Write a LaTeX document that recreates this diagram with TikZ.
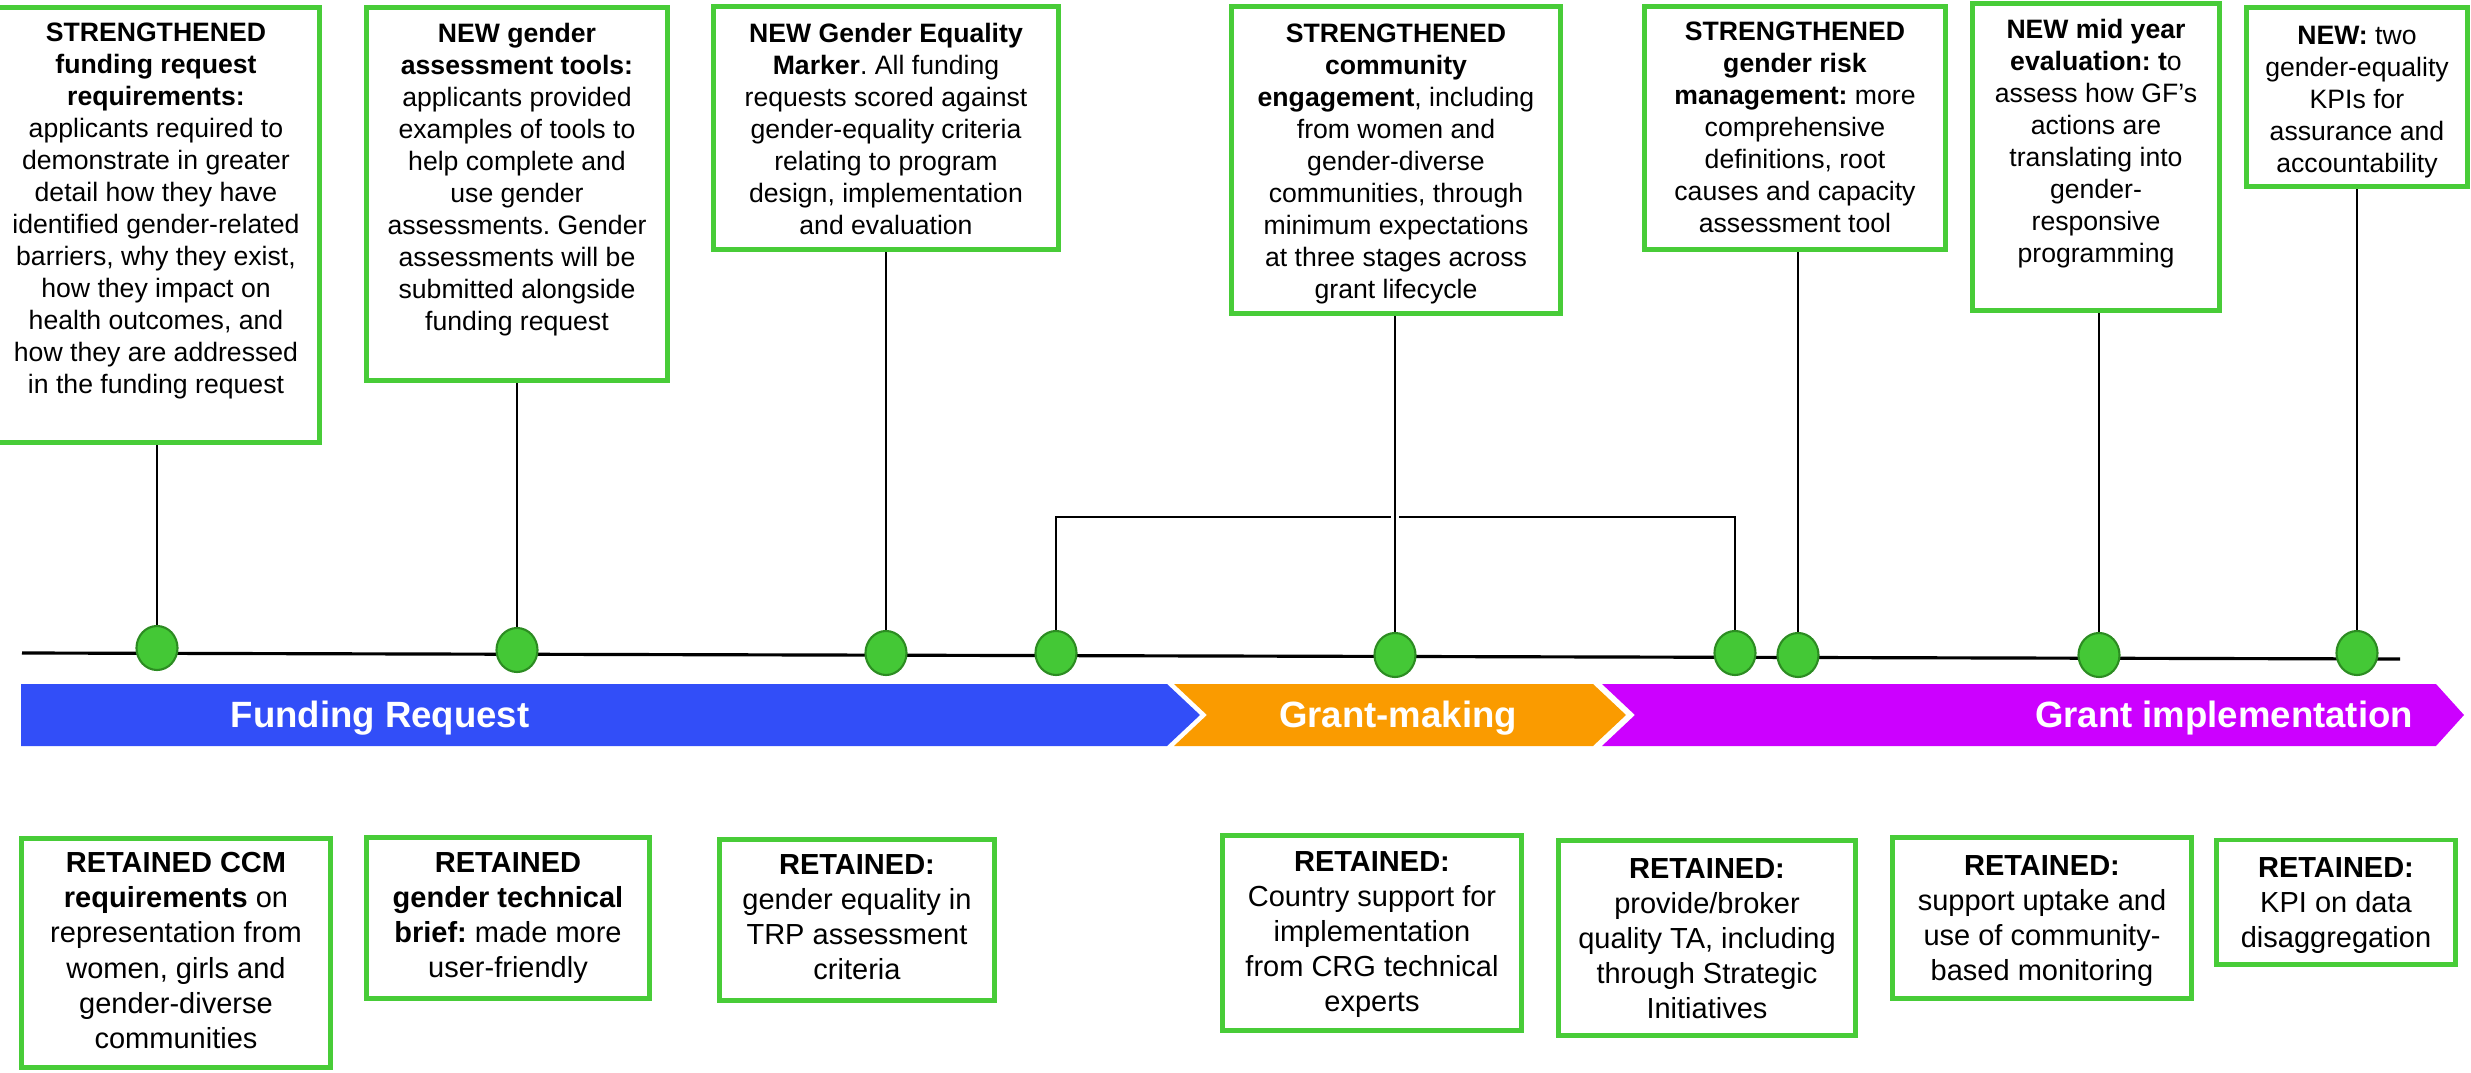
\documentclass[tikz,border=0pt]{standalone}
\usepackage{fontspec}
\setmainfont{Liberation Sans}
\usepackage{tikz}
\usetikzlibrary{positioning,shapes.geometric}
\usepackage{xcolor}
\definecolor{boxgreen}{RGB}{72,204,56}
\definecolor{dotgreen}{RGB}{68,200,54}
\definecolor{dotedge}{RGB}{44,140,34}
\definecolor{frblue}{RGB}{50,78,248}
\definecolor{gmorange}{RGB}{250,155,0}
\definecolor{gimagenta}{RGB}{204,0,255}
\newcommand{\toptext}{\fontsize{7.57}{9.1}\selectfont}
\newcommand{\lowtext}{\fontsize{8.25}{9.96}\selectfont}
\newcommand{\bartext}{\fontsize{10.4}{12}\selectfont\bfseries}
\frenchspacing

\begin{document}
\begin{tikzpicture}[x=0.01cm,y=-0.01cm,
  gbox/.style={draw=boxgreen,line width=1.4pt,fill=white,inner sep=0pt},
  toptxt/.style={align=center,inner sep=0pt,font=\toptext},
  lowtxt/.style={align=center,inner sep=0pt,font=\lowtext},
  bartxt/.style={anchor=base,inner sep=0pt,text=white,font=\bartext},
  dot/.style={ellipse,fill=dotgreen,draw=dotedge,line width=0.6pt,minimum width=0.41cm,minimum height=0.44cm,inner sep=0pt},
  stem/.style={line width=0.7pt},
  stemx/.style={stem,preaction={draw=white,line width=2.4pt}}]
\useasboundingbox (0,0) rectangle (2471,1073);

% top boxes: new and strengthened
\node[gbox,minimum width=3.27cm,minimum height=4.35cm] (b1) at (156,225) {};
\node[gbox,minimum width=3.01cm,minimum height=3.73cm] (b2) at (517,194) {};
\node[gbox,minimum width=3.44cm,minimum height=2.43cm] (b3) at (886,128) {};
\node[gbox,minimum width=3.29cm,minimum height=3.06cm] (b4) at (1396,160) {};
\node[gbox,minimum width=3.01cm,minimum height=2.43cm] (b5) at (1795,128) {};
\node[gbox,minimum width=2.46cm,minimum height=3.07cm] (b6) at (2096,157) {};
\node[gbox,minimum width=2.21cm,minimum height=1.78cm] (b7) at (2357,97) {};
\node[toptxt,below=0.175cm of b1.north] (t1) {\textbf{STRENGTHENED}\\\textbf{funding request}\\\textbf{requirements:}\\applicants required to\\demonstrate in greater\\detail how they have\\identified gender-related\\barriers, why they exist,\\how they impact on\\health outcomes, and\\how they are addressed\\in the funding request};
\node[toptxt,below=0.175cm of b2.north] (t2) {\textbf{NEW gender}\\\textbf{assessment tools:}\\applicants provided\\examples of tools to\\help complete and\\use gender\\assessments. Gender\\assessments will be\\submitted alongside\\funding request};
\node[toptxt,below=0.185cm of b3.north] (t3) {\textbf{NEW Gender Equality}\\\textbf{Marker}. All funding\\requests scored against\\gender-equality criteria\\relating to program\\design, implementation\\and evaluation};
\node[toptxt,below=0.185cm of b4.north] (t4) {\textbf{STRENGTHENED}\\\textbf{community}\\\textbf{engagement}, including\\from women and\\gender-diverse\\communities, through\\minimum expectations\\at three stages across\\grant lifecycle};
\node[toptxt,below=0.175cm of b5.north] (t5) {\textbf{STRENGTHENED}\\\textbf{gender risk}\\\textbf{management:} more\\comprehensive\\definitions, root\\causes and capacity\\assessment tool};
\node[toptxt,below=0.175cm of b6.north] (t6) {\textbf{NEW mid year}\\\textbf{evaluation: t}o\\assess how GF’s\\actions are\\translating into\\gender-\\responsive\\programming};
\node[toptxt,below=0.2cm of b7.north] (t7) {\textbf{NEW:} two\\gender-equality\\KPIs for\\assurance and\\accountability};

% bottom boxes: retained
\node[gbox,minimum width=3.08cm,minimum height=2.28cm] (r1) at (176,953) {};
\node[gbox,minimum width=2.82cm,minimum height=1.60cm] (r2) at (508,918) {};
\node[gbox,minimum width=2.74cm,minimum height=1.60cm] (r3) at (857,920) {};
\node[gbox,minimum width=2.99cm,minimum height=1.95cm] (r4) at (1372,933) {};
\node[gbox,minimum width=2.96cm,minimum height=1.95cm] (r5) at (1707,938) {};
\node[gbox,minimum width=2.99cm,minimum height=1.60cm] (r6) at (2042,918) {};
\node[gbox,minimum width=2.38cm,minimum height=1.24cm] (r7) at (2336,902) {};
\node[lowtxt,below=0.155cm of r1.north] (s1) {\textbf{RETAINED CCM}\\\textbf{requirements} on\\representation from\\women, girls and\\gender-diverse\\communities};
\node[lowtxt,below=0.165cm of r2.north] (s2) {\textbf{RETAINED}\\\textbf{gender technical}\\\textbf{brief:} made more\\user-friendly};
\node[lowtxt,below=0.165cm of r3.north] (s3) {\textbf{RETAINED:}\\gender equality in\\TRP assessment\\criteria};
\node[lowtxt,below=0.175cm of r4.north] (s4) {\textbf{RETAINED:}\\Country support for\\implementation\\from CRG technical\\experts};
\node[lowtxt,below=0.195cm of r5.north] (s5) {\textbf{RETAINED:}\\provide/broker\\quality TA, including\\through Strategic\\Initiatives};
\node[lowtxt,below=0.195cm of r6.north] (s6) {\textbf{RETAINED:}\\support uptake and\\use of community-\\based monitoring};
\node[lowtxt,below=0.195cm of r7.north] (s7) {\textbf{RETAINED:}\\KPI on data\\disaggregation};

% phase chevrons
\fill[frblue] (21,684) -- (1167,684) -- (1200,715) -- (1167,746) -- (21,746) -- cycle;
\fill[gmorange] (1174,684) -- (1593,684) -- (1626,715) -- (1593,746) -- (1174,746) -- (1207,715) -- cycle;
\fill[gimagenta] (1602,684) -- (2436,684) -- (2464,715) -- (2436,746) -- (1602,746) -- (1635,715) -- cycle;
\node[bartxt] (lfr) at (380,727) {Funding Request};
\node[bartxt] (lgm) at (1398,727) {Grant-making};
\node[bartxt] (lgi) at (2224,727) {Grant implementation};

% timeline
\coordinate (tl0) at (22,653);
\coordinate (tl1) at (2400,659);
\draw[line width=0.9pt] (tl0) -- (tl1);
\node[dot] (d1) at (157,648) {};
\node[dot] (d2) at (517,650) {};
\node[dot] (d3) at (886,653) {};
\node[dot] (d4) at (1056,653) {};
\node[dot] (d5) at (1395,655) {};
\node[dot] (d6) at (1735,653) {};
\node[dot] (d7) at (1798,655) {};
\node[dot] (d8) at (2099,655) {};
\node[dot] (d9) at (2357,653) {};

% stems up to the boxes
\coordinate (brk) at (1400,517);
\draw[stem] (d4.north) |- (brk) -| (d6.north);
\draw[stem] (d1.north) -- (d1.north |- b1.south);
\draw[stem] (d2.north) -- (d2.north |- b2.south);
\draw[stem] (d3.north) -- (d3.north |- b3.south);
\draw[stemx] (d5.north) -- (d5.north |- b4.south);
\draw[stem] (d7.north) -- (d7.north |- b5.south);
\draw[stem] (d8.north) -- (d8.north |- b6.south);
\draw[stem] (d9.north) -- (d9.north |- b7.south);
\end{tikzpicture}
\end{document}
